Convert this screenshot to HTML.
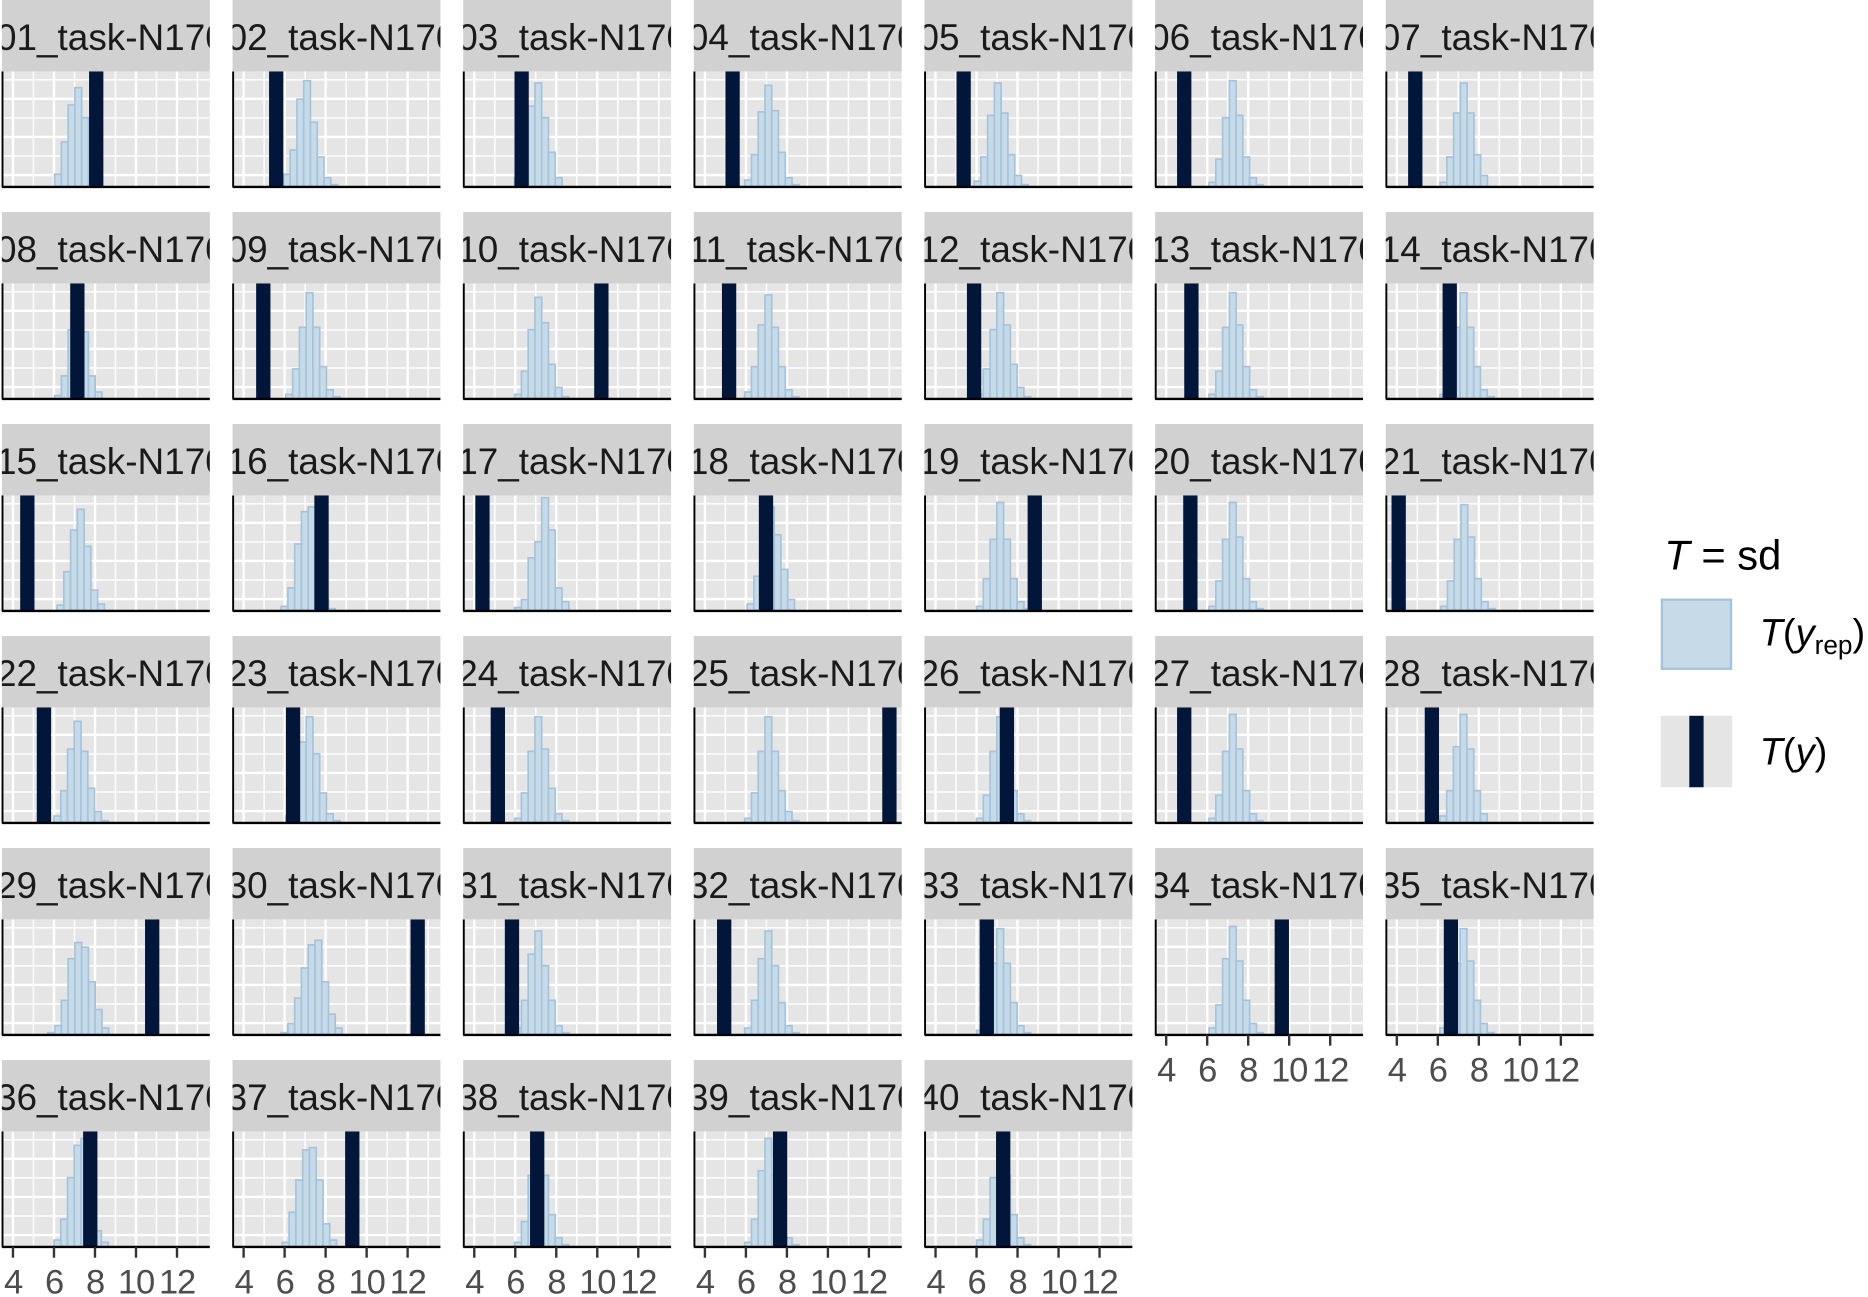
<!DOCTYPE html>
<html><head><meta charset="utf-8"><style>
html,body{margin:0;padding:0;background:#fff;}
svg{display:block;font-family:"Liberation Sans",Arial,sans-serif;}
</style></head><body>
<svg id="chart" width="1868" height="1297" viewBox="0 0 1568 1089" preserveAspectRatio="none" xmlns="http://www.w3.org/2000/svg">
<g id="panels"></g>
<g id="legend">
  <text x="1397" y="478" font-size="35" fill="#000"><tspan font-style="italic">T</tspan> = sd</text>
  <rect x="1395" y="503.5" width="58" height="58" fill="#c6dae8" stroke="#a5c3dc" stroke-width="2"/>
  <text x="1477" y="542" font-size="32" fill="#000"><tspan font-style="italic">T</tspan>(<tspan font-style="italic">y</tspan><tspan font-size="22" dy="7">rep</tspan><tspan dy="-7">)</tspan></text>
  <rect x="1394" y="601" width="60" height="60" fill="#e5e5e5"/>
  <rect x="1418" y="601" width="12" height="60" fill="#011638"/>
  <text x="1477" y="642" font-size="32" fill="#000"><tspan font-style="italic">T</tspan>(<tspan font-style="italic">y</tspan>)</text>
</g>
</svg>
<script>
const labels = ["01","02","03","04","05","06","07","08","09","10","11","12","13","14","15","16","17","18","19","20","21","22","23","24","25","26","27","28","29","30","31","32","33","34","35","36","37","38","39","40"];
const obsValues = [8.06,5.59,6.31,5.35,5.37,4.88,4.90,7.14,4.96,10.20,5.18,5.88,5.23,6.58,4.70,7.80,4.40,6.98,8.84,5.18,4.09,5.51,6.41,5.15,13.0,7.48,4.88,5.71,10.79,12.49,5.84,4.94,6.50,9.64,6.64,7.77,9.30,7.07,7.67,7.30];
const histStarts = [6.03,5.94,5.97,5.94,5.88,6.09,6.11,6.03,6.06,5.97,5.94,6.0,6.09,6.1,6.15,5.83,5.97,6.06,6.0,6.09,6.14,6.0,6.06,5.97,5.94,6.0,6.09,6.1,5.7,5.83,5.97,5.94,6.0,6.09,6.1,6.0,5.89,5.97,5.94,6.0];
const histCounts = [
 [11,39,71,86,60,29,0],[11,32,76,92,56,26,8,2],[8,30,70,90,60,30,8],[6,28,65,88,66,30,8,2],[5,26,62,90,64,28,10,2],[4,24,60,92,62,26,8,2],[4,26,64,90,64,28,10],
 [3,20,60,94,58,20,6],[4,26,62,92,62,28,8,2],[4,24,60,88,66,30,10,2],[6,28,64,90,62,28,8,2],[4,26,60,92,64,30,10,2],[4,24,62,92,64,28,8,2],[4,26,62,92,62,28,8,2],
 [5,34,70,88,56,18,6],[4,20,58,86,90,50,10,2],[3,10,46,60,98,70,20,8],[6,30,74,90,66,36,10],[4,28,62,94,62,28,8,2],[4,26,62,94,64,28,8,2],[4,26,62,92,64,28,8,2],
 [6,28,64,88,62,30,10,2],[6,30,70,92,60,26,8,2],[4,26,62,92,64,30,8,2],[4,26,62,92,62,28,10,2],[4,24,62,92,62,28,8,2],[4,24,62,94,64,28,8,2],[6,28,66,94,64,28,8],
 [2,8,30,66,80,76,46,22,6],[2,10,32,58,78,82,46,18,6],[6,30,70,90,60,30,8,2],[6,30,66,90,60,28,8,2],[4,24,62,92,62,28,8,2],[6,26,66,94,64,30,10,2],[6,26,62,92,64,30,10,2],
 [6,24,60,88,94,50,14,4],[4,30,58,84,86,58,20,6],[4,22,62,92,62,28,8,2],[4,24,66,94,62,26,8,2],[6,24,60,92,62,28,8,2]
];
const xTicks = [4,6,8,10,12];
const binWidth = 0.33;

const NS = "http://www.w3.org/2000/svg";
const root = document.getElementById("panels");
const colStep = 193.6, rowStep = 178, panelW = 174.5, stripH = 60, plotH = 97;
const xMin = 3.46, xMax = 13.6;
function mk(tag, attrs, parent){const e=document.createElementNS(NS,tag);for(const k in attrs)e.setAttribute(k,attrs[k]);parent.appendChild(e);return e;}
function xScale(v, left){return left + (v - xMin) / (xMax - xMin) * panelW;}
function yScale(c, top){return top + plotH - c / 100 * plotH;}

labels.forEach((lab, i) => {
  const col = i % 7, row = Math.floor(i / 7);
  const left = 1.6 + col * colStep, top = row * rowStep;
  const g = mk("g", {}, root);
  
  
  const cid = "clip" + i;
  const cp = mk("clipPath", {id: cid}, g);
  mk("rect", {x: left, y: top, width: panelW, height: stripH + plotH}, cp);
  const strip = mk("rect", {x: left, y: top, width: panelW, height: stripH, fill: "#d1d1d1"}, g);
  
  
  const st = mk("text", {x: left - 5, y: top + 42, "font-size": 31, fill: "#1a1a1a", "clip-path": "url(#" + cid + ")"}, g);
  st.textContent = lab + "_task-N170";
  
  
  const pt = top + stripH;
  const bg = mk("rect", {x: left, y: pt, width: panelW, height: plotH, fill: "#e5e5e5"}, g);
  
  
  const grid = mk("g", {stroke: "#fff", "clip-path": "url(#" + cid + ")"}, g);
  
  
  for (let v = 4; v <= 13; v++) {
    const x = xScale(v, left);
    mk("line", {x1: x, x2: x, y1: pt, y2: pt + plotH, "stroke-width": v % 2 === 0 ? 2 : 1.2}, grid);
  }
  for (let k = 0; k < 6; k++) {
    const y = pt + plotH - 10 - 16 * k;
    mk("line", {x1: left, x2: left + panelW, y1: y, y2: y, "stroke-width": k % 2 === 0 ? 2 : 1.2}, grid);
  }
  const bars = mk("g", {fill: "#c6dae8", stroke: "#a5c3dc", "stroke-width": 1.4, "clip-path": "url(#" + cid + ")"}, g);
  
  
  histCounts[i].forEach((c, b) => {
    if (c <= 0) return;
    const x0 = xScale(histStarts[i] + b * binWidth, left), x1 = xScale(histStarts[i] + (b + 1) * binWidth, left);
    const y = yScale(c, pt);
    const r = mk("rect", {x: x0, y: y, width: x1 - x0, height: pt + plotH - y}, bars);
    
    
  });
  const ox = xScale(obsValues[i], left);
  const ob = mk("rect", {x: ox - 6, y: pt, width: 12, height: plotH, fill: "#011638", "clip-path": "url(#" + cid + ")"}, g);
  
  
  const ya = mk("line", {x1: left + 0.5, x2: left + 0.5, y1: pt, y2: pt + plotH, stroke: "#000", "stroke-width": 1.6}, g);
  
  
  const xa = mk("line", {x1: left, x2: left + panelW, y1: pt + plotH, y2: pt + plotH, stroke: "#000", "stroke-width": 2}, g);
  
  
  const hasAxis = row === 5 || (row === 4 && col >= 5);
  if (hasAxis) {
    const ax = mk("g", {}, g);
    
    
    xTicks.forEach(t => {
      const x = xScale(t, left);
      mk("line", {x1: x, x2: x, y1: pt + plotH, y2: pt + plotH + 9, stroke: "#333", "stroke-width": 2}, ax);
      const tl = mk("text", {x: x, y: pt + plotH + 39, "font-size": 29, fill: "#4d4d4d", "text-anchor": "middle", "letter-spacing": "-1"}, ax);
      tl.textContent = t;
      
      
    });
  }
});
</script>
</body></html>
